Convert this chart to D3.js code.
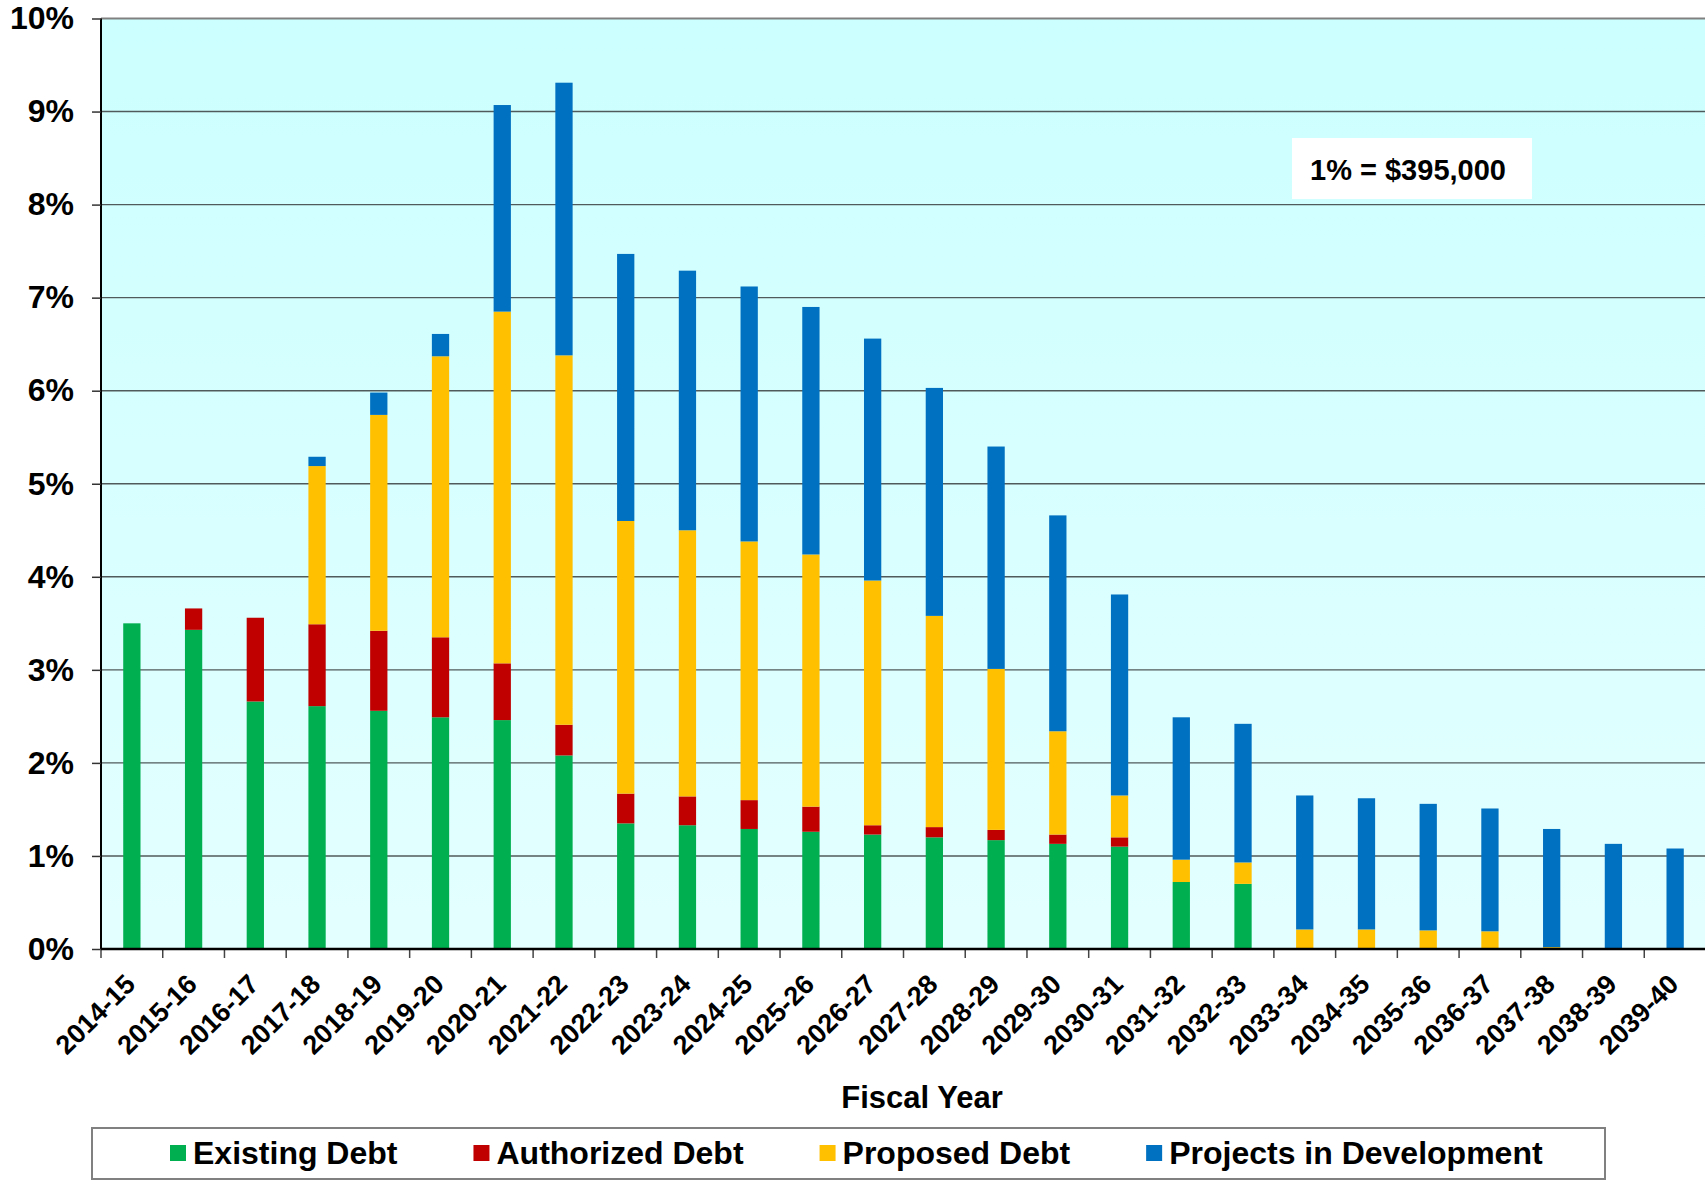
<!DOCTYPE html>
<html>
<head>
<meta charset="utf-8">
<script src="https://cdn.jsdelivr.net/npm/d3@7"></script>
<style>
  html, body { margin: 0; padding: 0; background: #ffffff; }
  svg { display: block; }
  text { font-family: "Liberation Sans", Arial, sans-serif; font-weight: bold; fill: #000; }
</style>
</head>
<body>
<svg id="chart" width="1705" height="1182"></svg>
<script>
// Fiscal years on the x axis
const years = ["2014-15","2015-16","2016-17","2017-18","2018-19","2019-20","2020-21","2021-22",
  "2022-23","2023-24","2024-25","2025-26","2026-27","2027-28","2028-29","2029-30","2030-31",
  "2031-32","2032-33","2033-34","2034-35","2035-36","2036-37","2037-38","2038-39","2039-40"];

// Debt service as a percent of revenue, by category
const existingDebt   = [3.50,3.43,2.66,2.61,2.56,2.49,2.46,2.08,1.35,1.33,1.29,1.26,1.23,1.20,1.17,1.13,1.10,0.72,0.70,0,0,0,0,0,0,0];
const authorizedDebt = [0,0.23,0.90,0.88,0.86,0.86,0.61,0.33,0.32,0.31,0.31,0.27,0.10,0.11,0.11,0.10,0.10,0,0,0,0,0,0,0,0,0];
const proposedDebt   = [0,0,0,1.70,2.32,3.02,3.78,3.97,2.93,2.86,2.78,2.71,2.63,2.27,1.73,1.11,0.45,0.24,0.23,0.21,0.21,0.20,0.19,0.02,0,0];
const projectsInDev  = [0,0,0,0.10,0.24,0.24,2.22,2.93,2.87,2.79,2.74,2.66,2.60,2.45,2.39,2.32,2.16,1.53,1.49,1.44,1.41,1.36,1.32,1.27,1.13,1.08];

const seriesNames  = ["Existing Debt","Authorized Debt","Proposed Debt","Projects in Development"];
const seriesColors = ["#00B050","#C00000","#FFC000","#0070C0"];
const yTicks = [0,1,2,3,4,5,6,7,8,9,10];
const noteText = "1% = $395,000";
const xTitle = "Fiscal Year";

const svg = d3.select("#chart");
const plot = { left: 101, right: 1706, top: 18.5, bottom: 949 };

const x = d3.scaleBand().domain(years).range([plot.left, plot.right])
  .paddingInner(0.72).paddingOuter(0.36);
const y = d3.scaleLinear().domain([0, 10]).range([plot.bottom, plot.top]);

// Plot-area background: pale cyan, lightening towards the bottom
const defs = svg.append("defs");
const grad = defs.append("linearGradient").attr("id", "bg").attr("x1", 0).attr("y1", 0).attr("x2", 0).attr("y2", 1);
grad.append("stop").attr("offset", "0%").attr("stop-color", "#CCFFFF");
grad.append("stop").attr("offset", "100%").attr("stop-color", "#E4FFFF");
svg.append("rect")
  .attr("x", plot.left).attr("y", plot.top)
  .attr("width", plot.right - plot.left).attr("height", plot.bottom - plot.top)
  .attr("fill", "url(#bg)");

// Horizontal gridlines
svg.append("g").selectAll("line").data(yTicks.filter(d => d > 0 && d < 10)).join("line")
  .attr("x1", plot.left).attr("x2", plot.right)
  .attr("y1", d => y(d)).attr("y2", d => y(d))
  .attr("stroke", "#505a5a").attr("stroke-width", 1.4);

// Top border
svg.append("line").attr("x1", plot.left).attr("x2", plot.right)
  .attr("y1", plot.top).attr("y2", plot.top)
  .attr("stroke", "#808080").attr("stroke-width", 2);

// Stacked bars
const rows = years.map((yr, i) => ({
  year: yr,
  "Existing Debt": existingDebt[i],
  "Authorized Debt": authorizedDebt[i],
  "Proposed Debt": proposedDebt[i],
  "Projects in Development": projectsInDev[i]
}));
const stacked = d3.stack().keys(seriesNames)(rows);
svg.append("g").selectAll("g").data(stacked).join("g")
  .attr("fill", (d, i) => seriesColors[i])
  .selectAll("rect").data(d => d.filter(p => p[1] - p[0] > 0)).join("rect")
  .attr("x", d => x(d.data.year))
  .attr("width", x.bandwidth())
  .attr("y", d => y(d[1]))
  .attr("height", d => y(d[0]) - y(d[1]));

// Y axis
const yAxis = d3.axisLeft(y).tickValues(yTicks).tickFormat(d => d + "%").tickSize(9).tickPadding(18);
const gy = svg.append("g").attr("transform", `translate(${plot.left},0)`).call(yAxis);
gy.select(".domain").attr("stroke", "#000").attr("stroke-width", 2)
  .attr("d", `M0,${plot.top}V${plot.bottom}`);
gy.selectAll(".tick line").attr("stroke", "#333").attr("stroke-width", 1.5);
gy.selectAll(".tick text").attr("font-size", 32).attr("font-weight", "bold")
  .attr("font-family", "'Liberation Sans', Arial, sans-serif").attr("fill", "#000");

// X axis: ticks between categories
const step = x.step();
const boundaries = d3.range(years.length + 1).map(i => plot.left + i * step);
svg.append("g").selectAll("line").data(boundaries).join("line")
  .attr("x1", d => d).attr("x2", d => d)
  .attr("y1", plot.bottom).attr("y2", plot.bottom + 9)
  .attr("stroke", "#444").attr("stroke-width", 1.5);
svg.append("line").attr("x1", plot.left).attr("x2", plot.right)
  .attr("y1", plot.bottom).attr("y2", plot.bottom)
  .attr("stroke", "#000").attr("stroke-width", 2.5);

// Rotated category labels
svg.append("g").selectAll("text").data(years).join("text")
  .attr("transform", d => `translate(${x(d) + x.bandwidth() / 2 + 5},${plot.bottom + 37}) rotate(-45)`)
  .attr("text-anchor", "end")
  .attr("font-size", 27)
  .text(d => d);

// Axis title
svg.append("text").attr("x", 922).attr("y", 1108)
  .attr("text-anchor", "middle").attr("font-size", 31).text(xTitle);

// Value note box
const note = svg.append("g");
note.append("rect").attr("x", 1292).attr("y", 138).attr("width", 240).attr("height", 61).attr("fill", "#ffffff");
note.append("text").attr("x", 1408).attr("y", 180).attr("text-anchor", "middle")
  .attr("font-family", "Lato, 'Open Sans', sans-serif").attr("font-size", 29).text(noteText);

// Legend
const legend = svg.append("g");
legend.append("rect").attr("x", 92).attr("y", 1128).attr("width", 1513).attr("height", 51)
  .attr("fill", "#ffffff").attr("stroke", "#808080").attr("stroke-width", 2);
let lx = 170;
seriesNames.forEach((name, i) => {
  legend.append("rect").attr("x", lx).attr("y", 1145).attr("width", 16).attr("height", 16)
    .attr("fill", seriesColors[i]);
  const t = legend.append("text").attr("x", lx + 23).attr("y", 1164).attr("font-size", 32).text(name);
  lx += 23 + t.node().getComputedTextLength() + 76;
});
</script>
</body>
</html>
